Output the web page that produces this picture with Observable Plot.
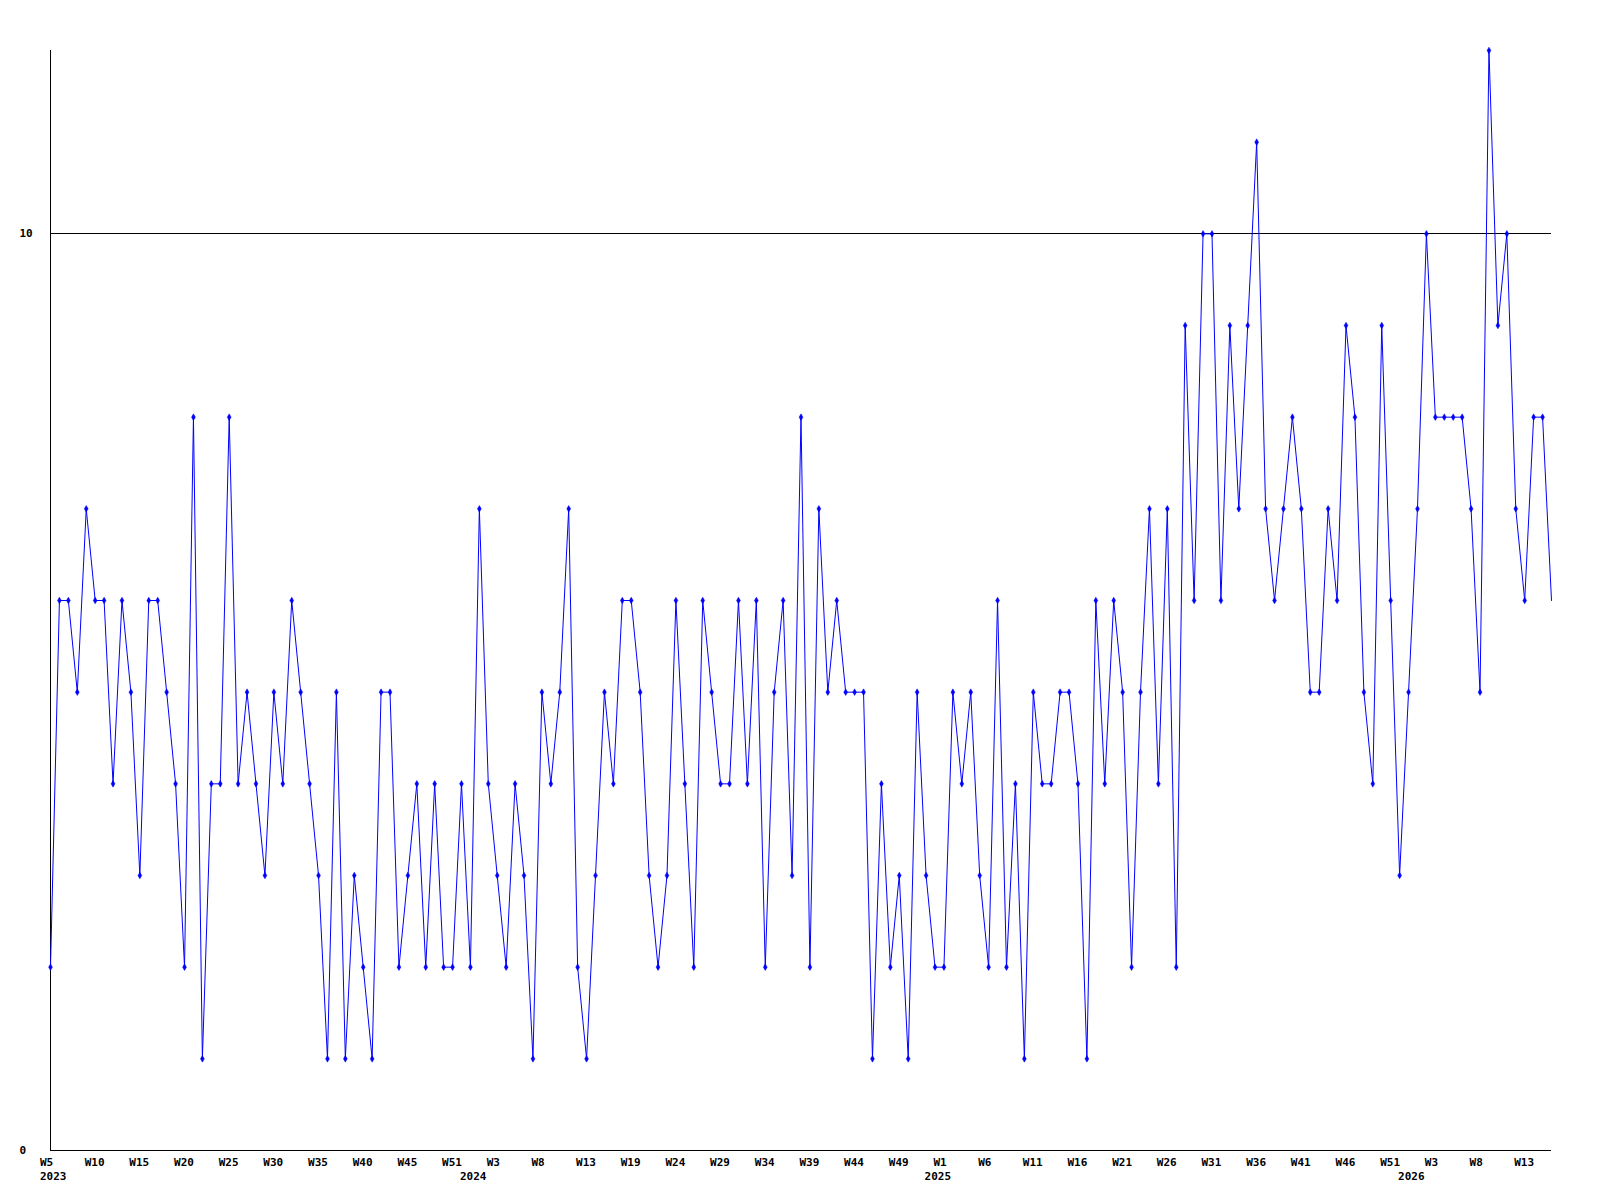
<!DOCTYPE html>
<html>
<head>
<meta charset="utf-8">
<script src="https://cdn.jsdelivr.net/npm/d3@7"></script>
<script src="https://cdn.jsdelivr.net/npm/@observablehq/plot@0.6"></script>
<style>
  html, body { margin: 0; padding: 0; background: #ffffff; }
  #chart { width: 1600px; height: 1200px; }
</style>
</head>
<body>
<div id="chart"></div>
<script>
// Weekly counts, starting 2023 W5 (one value per week)
const values = [
  2, 6, 6, 5, 7, 6, 6, 4, 6, 5, 3, 6, 6, 5, 4, 2, 8, 1, 4, 4, 8, 4, 5, 4,
  3, 5, 4, 6, 5, 4, 3, 1, 5, 1, 3, 2, 1, 5, 5, 2, 3, 4, 2, 4, 2, 2, 4, 2,
  7, 4, 3, 2, 4, 3, 1, 5, 4, 5, 7, 2, 1, 3, 5, 4, 6, 6, 5, 3, 2, 3, 6,
  4, 2, 6, 5, 4, 4, 6, 4, 6, 2, 5, 6, 3, 8, 2, 7, 5, 6, 5, 5, 5, 1, 4, 2,
  3, 1, 5, 3, 2, 2, 5, 4, 5, 3, 2, 6, 2, 4, 1, 5, 4, 4, 5, 5, 4, 1, 6,
  4, 6, 5, 2, 5, 7, 4, 7, 2, 9, 6, 10, 10, 6, 9, 7, 9, 11, 7, 6, 7, 8, 7, 5, 5, 7,
  6, 9, 8, 5, 4, 9, 6, 3, 5, 7, 10, 8, 8, 8, 8, 7, 5, 12, 9, 10, 7, 6, 8, 8, 6
];

// Week tick labels, one every 5 weeks
const weekLabels = [
  "W5", "W10", "W15", "W20", "W25", "W30", "W35", "W40", "W45", "W51",
  "W3", "W8", "W13", "W19", "W24", "W29", "W34", "W39", "W44", "W49",
  "W1", "W6", "W11", "W16", "W21", "W26", "W31", "W36", "W41", "W46", "W51",
  "W3", "W8", "W13"
];
const weekLabelStep = 5;

// Year labels and the week (index) under which each sits
const yearLabels = ["2023", "2024", "2025", "2026"];
const yearWeekIndex = [0, 47, 99, 152];

const yTicks = [0, 10];
const gridLine = [10];

const data = values.map((v, i) => ({i, v}));
const weekTicks = weekLabels.map((_, k) => k * weekLabelStep);
const yearByIdx = new Map(yearWeekIndex.map((w, k) => [w, yearLabels[k]]));

const chart = Plot.plot({
  width: 1600,
  height: 1200,
  marginLeft: 50,
  marginRight: 49,
  marginTop: 50,
  marginBottom: 50,
  style: {
    fontFamily: "'DejaVu Sans Mono', 'Liberation Mono', monospace",
    fontSize: "11px",
    fontWeight: "bold",
    background: "#ffffff",
    color: "#000000"
  },
  x: {domain: [0, values.length - 1], label: null},
  y: {domain: [0, 12], label: null},
  marks: [
    Plot.ruleY(gridLine, {stroke: "#000000", strokeWidth: 1, shapeRendering: "crispEdges"}),
    Plot.ruleY([0], {stroke: "#000000", strokeWidth: 1, shapeRendering: "crispEdges"}),
    Plot.ruleX([0], {y1: 0, y2: 12, stroke: "#000000", strokeWidth: 1, shapeRendering: "crispEdges"}),
    Plot.line(data, {x: "i", y: "v", stroke: "#0000ff", strokeWidth: 1}),
    Plot.dot(data.slice(0, -1), {x: "i", y: "v", symbol: "diamond", r: 2, fill: "#0000ff", stroke: "#0000ff", strokeWidth: 0.5}),
    Plot.axisY(yTicks, {tickSize: 0, tickPadding: 0, textAnchor: "start", dx: -31, label: null, tickFormat: (d) => String(d)}),
    Plot.axisX(weekTicks, {
      tickSize: 0, tickPadding: 8, textAnchor: "start", dx: -10.5, label: null,
      tickFormat: (i) => weekLabels[i / weekLabelStep]
    }),
    Plot.axisX(yearWeekIndex, {
      tickSize: 0, tickPadding: 22, textAnchor: "start", dx: -10.5, label: null,
      tickFormat: (i) => yearByIdx.get(i)
    })
  ]
});

document.getElementById("chart").appendChild(chart);
</script>
</body>
</html>
